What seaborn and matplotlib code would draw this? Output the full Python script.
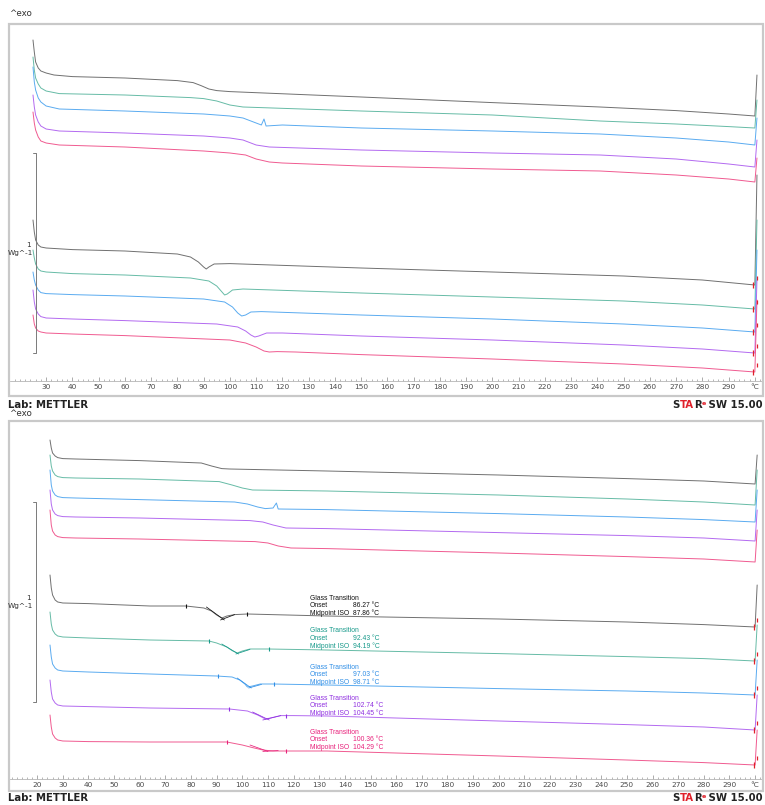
import matplotlib
matplotlib.use("Agg")
import matplotlib.pyplot as plt
import seaborn as sns
import pandas as pd
from matplotlib.patches import Rectangle
from matplotlib.ticker import MultipleLocator, FixedLocator, FixedFormatter
from matplotlib.font_manager import FontProperties, findfont, get_font

sns.set_theme(style="white")
plt.rcParams['font.family'] = ['DejaVu Sans']

W, H = 765, 805

# ---------------- colours ----------------
series = ["black", "teal", "blue", "purple", "pink"]
line_colors = ["#707070", "#66bba6", "#5aabf0", "#b36af0", "#f05a90"]
text_colors = ["#111111", "#16998a", "#2f8ee6", "#8f2fe0", "#e8207a"]

# ---------------- top panel, upper set (T in degC, heat flow in W/g) ----------------
t_a1 = [25, 25.5, 26, 27, 28, 30, 33, 40, 60, 80, 86, 89, 92, 95, 100, 150, 200, 241, 270, 290, 300, 300.8]
h_a1 = [-0.080, -0.140, -0.190, -0.220, -0.235, -0.245, -0.255, -0.263, -0.270, -0.283, -0.293, -0.308, -0.325, -0.333, -0.338, -0.365, -0.393, -0.415, -0.433, -0.450, -0.460, -0.255]
t_a2 = [25, 25.5, 26, 27, 28, 30, 35, 60, 85, 90, 95, 100, 105, 150, 200, 241, 270, 290, 300, 300.8]
h_a2 = [-0.165, -0.230, -0.270, -0.300, -0.320, -0.335, -0.348, -0.355, -0.368, -0.373, -0.385, -0.405, -0.415, -0.435, -0.455, -0.485, -0.500, -0.513, -0.520, -0.380]
t_a3 = [25, 25.5, 26, 27, 28, 30, 35, 60, 90, 100, 105, 108, 110, 112, 113, 113.8, 120, 150, 200, 241, 270, 290, 300, 300.8]
h_a3 = [-0.215, -0.290, -0.330, -0.370, -0.390, -0.410, -0.425, -0.435, -0.450, -0.460, -0.470, -0.485, -0.495, -0.505, -0.475, -0.510, -0.505, -0.520, -0.535, -0.550, -0.570, -0.590, -0.605, -0.470]
t_a4 = [25, 25.5, 26, 27, 28, 30, 35, 60, 90, 100, 105, 110, 115, 150, 200, 241, 270, 290, 300, 300.8]
h_a4 = [-0.355, -0.415, -0.455, -0.490, -0.510, -0.525, -0.535, -0.545, -0.560, -0.570, -0.580, -0.605, -0.615, -0.630, -0.645, -0.655, -0.675, -0.700, -0.715, -0.580]
t_a5 = [25, 25.5, 26, 27, 28, 30, 35, 60, 90, 100, 106, 110, 115, 120, 150, 200, 241, 270, 290, 300, 300.8]
h_a5 = [-0.440, -0.495, -0.530, -0.565, -0.585, -0.595, -0.605, -0.615, -0.635, -0.645, -0.655, -0.675, -0.690, -0.695, -0.710, -0.725, -0.735, -0.755, -0.775, -0.790, -0.670]

# ---------------- top panel, lower set ----------------
t_b1 = [25, 25.5, 26, 27, 28, 30, 40, 60, 80, 85, 88, 90, 91, 92, 94, 100, 150, 200, 250, 280, 300, 300.8]
h_b1 = [-0.980, -1.040, -1.080, -1.105, -1.115, -1.120, -1.128, -1.135, -1.150, -1.165, -1.190, -1.215, -1.225, -1.215, -1.200, -1.198, -1.220, -1.240, -1.260, -1.280, -1.305, -0.755]
t_b2 = [25, 25.5, 26, 27, 28, 30, 40, 60, 85, 92, 95, 97, 98, 99, 101, 105, 150, 200, 250, 280, 300, 300.8]
h_b2 = [-1.130, -1.170, -1.200, -1.225, -1.235, -1.240, -1.248, -1.255, -1.270, -1.285, -1.310, -1.340, -1.355, -1.350, -1.330, -1.325, -1.345, -1.365, -1.385, -1.405, -1.425, -0.980]
t_b3 = [25, 25.5, 26, 27, 28, 30, 40, 60, 90, 98, 101, 103, 104.5, 106, 108, 112, 150, 200, 250, 280, 300, 300.8]
h_b3 = [-1.240, -1.280, -1.305, -1.330, -1.343, -1.348, -1.353, -1.360, -1.375, -1.390, -1.415, -1.445, -1.460, -1.455, -1.440, -1.438, -1.455, -1.475, -1.500, -1.520, -1.540, -1.130]
t_b4 = [25, 25.5, 26, 27, 28, 30, 40, 60, 95, 103, 106, 108, 109.5, 111, 114, 120, 150, 200, 250, 280, 300, 300.8]
h_b4 = [-1.330, -1.390, -1.425, -1.450, -1.463, -1.470, -1.475, -1.483, -1.500, -1.515, -1.535, -1.555, -1.565, -1.560, -1.545, -1.545, -1.560, -1.580, -1.605, -1.625, -1.645, -1.280]
t_b5 = [25, 25.5, 26, 27, 28, 30, 40, 60, 100, 106, 110, 113, 115, 118, 125, 150, 200, 250, 280, 300, 300.8]
h_b5 = [-1.455, -1.500, -1.520, -1.535, -1.540, -1.545, -1.550, -1.558, -1.580, -1.595, -1.615, -1.635, -1.640, -1.638, -1.640, -1.653, -1.675, -1.700, -1.720, -1.740, -1.380]

# ---------------- bottom panel, upper set ----------------
t_c1 = [25, 25.5, 26, 27, 28, 30, 35, 60, 84, 88, 92, 95, 133, 200, 250, 280, 300, 300.8]
h_c1 = [-0.095, -0.135, -0.160, -0.175, -0.183, -0.188, -0.190, -0.198, -0.210, -0.225, -0.238, -0.240, -0.250, -0.270, -0.288, -0.300, -0.315, -0.170]
t_c2 = [25, 25.5, 26, 27, 28, 30, 35, 60, 91, 96, 100, 104, 133, 200, 250, 280, 300, 300.8]
h_c2 = [-0.170, -0.225, -0.250, -0.270, -0.278, -0.283, -0.285, -0.290, -0.303, -0.320, -0.335, -0.345, -0.350, -0.370, -0.390, -0.405, -0.420, -0.245]
t_c3 = [25, 25.5, 26, 27, 28, 30, 35, 60, 97, 102, 106, 109, 112, 113.3, 114, 133, 200, 250, 280, 300, 300.8]
h_c3 = [-0.245, -0.320, -0.350, -0.370, -0.378, -0.383, -0.385, -0.393, -0.405, -0.415, -0.430, -0.438, -0.435, -0.410, -0.440, -0.443, -0.463, -0.480, -0.493, -0.505, -0.345]
t_c4 = [25, 25.5, 26, 27, 28, 30, 35, 60, 103, 108, 112, 117, 133, 200, 250, 280, 300, 300.8]
h_c4 = [-0.345, -0.415, -0.445, -0.465, -0.473, -0.478, -0.480, -0.485, -0.498, -0.505, -0.520, -0.535, -0.538, -0.558, -0.573, -0.585, -0.600, -0.445]
t_c5 = [25, 25.5, 26, 27, 28, 30, 35, 60, 105, 110, 114, 119, 133, 200, 250, 280, 300, 300.8]
h_c5 = [-0.445, -0.520, -0.550, -0.570, -0.578, -0.583, -0.585, -0.590, -0.603, -0.610, -0.625, -0.635, -0.638, -0.660, -0.678, -0.690, -0.705, -0.545]

# ---------------- bottom panel, lower set (evaluated) ----------------
t_d1 = [25, 25.5, 26, 27, 28, 30, 40, 64, 78, 85, 88, 90, 92, 94, 97, 102, 133, 200, 250, 280, 300, 300.8]
h_d1 = [-0.770, -0.835, -0.870, -0.895, -0.905, -0.910, -0.913, -0.925, -0.925, -0.935, -0.950, -0.970, -0.985, -0.975, -0.968, -0.965, -0.975, -0.990, -1.005, -1.018, -1.030, -0.820]
t_d2 = [25, 25.5, 26, 27, 28, 30, 40, 64, 87, 90, 94, 96, 98, 100, 103, 110, 133, 200, 250, 280, 300, 300.8]
h_d2 = [-0.955, -1.015, -1.045, -1.065, -1.075, -1.080, -1.085, -1.095, -1.100, -1.110, -1.130, -1.148, -1.160, -1.150, -1.140, -1.140, -1.145, -1.163, -1.178, -1.188, -1.200, -1.020]
t_d3 = [25, 25.5, 26, 27, 28, 30, 40, 64, 90, 96, 99, 101, 102, 104, 107, 112, 133, 200, 250, 280, 300, 300.8]
h_d3 = [-1.120, -1.180, -1.215, -1.235, -1.245, -1.250, -1.255, -1.265, -1.275, -1.280, -1.295, -1.315, -1.330, -1.325, -1.315, -1.315, -1.320, -1.338, -1.350, -1.360, -1.370, -1.195]
t_d4 = [25, 25.5, 26, 27, 28, 30, 40, 64, 95, 102, 106, 109, 111, 115, 120, 133, 200, 250, 280, 300, 300.8]
h_d4 = [-1.295, -1.355, -1.390, -1.410, -1.420, -1.425, -1.428, -1.435, -1.440, -1.450, -1.470, -1.490, -1.485, -1.473, -1.473, -1.475, -1.500, -1.518, -1.530, -1.545, -1.370]
t_d5 = [25, 25.5, 26, 27, 28, 30, 40, 64, 94, 100, 104, 108, 112, 133, 200, 250, 280, 300, 300.8]
h_d5 = [-1.470, -1.530, -1.565, -1.585, -1.595, -1.600, -1.603, -1.605, -1.605, -1.620, -1.633, -1.645, -1.650, -1.650, -1.675, -1.695, -1.708, -1.720, -1.545]

# glass transition results
onset_vals = [86.27, 92.43, 97.03, 102.74, 100.36]
mid_vals = [87.86, 94.19, 98.71, 104.45, 104.29]

# evaluation limit marks (T, heat flow)
lim_t = [[78, 102], [87, 110.5], [90.5, 112.5], [95, 117], [94, 117]]
lim_h = [[-0.925, -0.965], [-1.100, -1.140], [-1.275, -1.315], [-1.440, -1.473], [-1.605, -1.650]]
# tangent construction lines: (T0, T1, h0, h1)
tan_a = [(86, 93, -0.930, -0.995), (92, 98.5, -1.115, -1.165), (98, 103.5, -1.285, -1.335), (104, 110.5, -1.455, -1.495), (103, 110, -1.620, -1.652)]
tan_b = [(91.5, 97, -0.995, -0.968), (97.5, 103, -1.165, -1.142), (102.5, 107.5, -1.335, -1.317), (108, 115, -1.495, -1.473), (108, 114, -1.652, -1.648)]

top_upper = [(t_a1, h_a1), (t_a2, h_a2), (t_a3, h_a3), (t_a4, h_a4), (t_a5, h_a5)]
top_lower = [(t_b1, h_b1), (t_b2, h_b2), (t_b3, h_b3), (t_b4, h_b4), (t_b5, h_b5)]
bot_upper = [(t_c1, h_c1), (t_c2, h_c2), (t_c3, h_c3), (t_c4, h_c4), (t_c5, h_c5)]
bot_lower = [(t_d1, h_d1), (t_d2, h_d2), (t_d3, h_d3), (t_d4, h_d4), (t_d5, h_d5)]


def fx(x):
    return x / W


def fy(y):
    return 1 - y / H


def make_df(groups):
    rows = []
    for g, grp in enumerate(groups):
        for i, (t, h) in enumerate(grp):
            for tt, hh in zip(t, h):
                rows.append({"T": tt, "HF": hh, "curve": f"g{g}_{series[i]}"})
    return pd.DataFrame(rows)


fig = plt.figure(figsize=(W / 100, H / 100), dpi=100)
fig.patch.set_facecolor("white")

panels = [
    dict(groups=[top_upper, top_lower], frame=(9, 24, 763, 396), ax=(24, 381), xlim=(16.24, 303.1),
         ylim=(-1.785, 0), first=30, exo_y=13, lab_y=405, bracket=(26.1, -0.643, -1.643, 25.0),
         one_y=245, wg_y=253),
    dict(groups=[bot_upper, bot_lower], frame=(9, 421, 763, 791), ax=(421, 779), xlim=(9.40, 303.08),
         ylim=(-1.79, 0), first=20, exo_y=414, lab_y=798, bracket=(19.5, -0.405, -1.405, 18.3),
         one_y=598, wg_y=606),
]

pal = {}
for g in range(2):
    for i, s in enumerate(series):
        pal[f"g{g}_{s}"] = line_colors[i]

RED = "#e0202a"
DARK = "#222222"


def advance(text, size, bold=True):
    """Sum of glyph advances in pixels (dpi 100)."""
    prop = FontProperties(family="DejaVu Sans", weight="bold" if bold else "normal")
    font = get_font(findfont(prop))
    font.set_size(size, 100)
    total = 0.0
    for ch in text:
        total += font.load_char(ord(ch)).linearHoriAdvance / 65536.0
    return total


def star_label(y_px):
    """'STARe SW 15.00' with the METTLER colouring, right-aligned at the frame edge."""
    big, small = 7.3, 4.6
    tighten = 0.3
    pieces = [("S", DARK, big, 0.0), ("TA", RED, big, 0.0), ("R", DARK, big, 0.0),
              ("e", RED, small, 3.0), (" SW 15.00", DARK, big, 0.0)]
    total = sum(advance(t, s) for t, c, s, r in pieces) - tighten * (len(pieces) - 1)
    x = 763.0 - total
    for txt, col, size, rise in pieces:
        fig.text(fx(x), fy(y_px + 3.3 - rise), txt, fontsize=size, fontweight="bold", color=col,
                 ha="left", va="baseline")
        x += advance(txt, size) - tighten


axes = []
for p in panels:
    x0, y0, x1, y1 = p["frame"]
    ay0, ay1 = p["ax"]
    ax = fig.add_axes([fx(10), fy(ay1), (763 - 10) / W, (ay1 - ay0) / H])
    ax.set_facecolor("none")
    df = make_df(p["groups"])
    sns.lineplot(data=df, x="T", y="HF", hue="curve", units="curve", estimator=None, sort=False,
                 palette=pal, linewidth=0.7, legend=False, ax=ax)
    ax.set_xlim(*p["xlim"])
    ax.set_ylim(*p["ylim"])
    for s in ["top", "left", "right"]:
        ax.spines[s].set_visible(False)
    ax.spines["bottom"].set_color("#b5b5b5")
    ax.spines["bottom"].set_linewidth(0.6)
    ax.set_yticks([])
    majors = list(range(p["first"], 301, 10))
    labels = [str(v) for v in majors[:-1]] + ["°C"]
    ax.xaxis.set_major_locator(FixedLocator(majors))
    ax.xaxis.set_major_formatter(FixedFormatter(labels))
    ax.xaxis.set_minor_locator(MultipleLocator(2))
    ax.tick_params(axis="x", which="major", direction="in", length=3, width=0.5, color="#8a8a8a",
                   labelsize=5.3, labelcolor="#4a4a4a", pad=2.2, bottom=True)
    ax.tick_params(axis="x", which="minor", direction="in", length=1.8, width=0.5, color="#9a9a9a", bottom=True)
    ax.set_xlabel("")
    ax.set_ylabel("")

    # red end marks on the lower set
    for t, h in p["groups"][1]:
        ax.plot([299.4], [h[-2]], marker="|", markersize=4, mew=0.9, color=RED, ls="none")
        ax.plot([300.9], [h[-2] + 0.035], marker="|", markersize=3, mew=0.9, color=RED, ls="none")

    # 1 W/g scale bracket
    bx, b_top, b_bot, bstub = p["bracket"]
    ax.plot([bstub, bx, bx, bstub], [b_top, b_top, b_bot, b_bot], color="#7a7a7a", lw=0.7)

    # frame and captions
    fig.add_artist(Rectangle((fx(x0), fy(y1)), (x1 - x0) / W, (y1 - y0) / H, transform=fig.transFigure,
                             fill=False, ec="#c9c9c9", lw=1.6))
    fig.text(fx(9), fy(p["exo_y"]), "^exo", fontsize=6.3, color="#333333", ha="left", va="center")
    fig.text(fx(31), fy(p["one_y"]), "1", fontsize=5.3, color="#333333", ha="right", va="center")
    fig.text(fx(33), fy(p["wg_y"]), "Wg^-1", fontsize=5.3, color="#333333", ha="right", va="center")
    fig.text(fx(8), fy(p["lab_y"]), "Lab: METTLER", fontsize=7.3, fontweight="bold", color=DARK,
             ha="left", va="center")
    star_label(p["lab_y"])
    axes.append(ax)

# evaluation marks on bottom lower set
axb = axes[1]
for i in range(5):
    axb.plot(lim_t[i], lim_h[i], marker="|", markersize=3.5, mew=0.8, ls="none", color=text_colors[i])
    a = tan_a[i]
    b = tan_b[i]
    axb.plot([a[0], a[1]], [a[2], a[3]], color=text_colors[i], lw=0.55)
    axb.plot([b[0], b[1]], [b[2], b[3]], color=text_colors[i], lw=0.55)

ann_font = ['Liberation Sans', 'DejaVu Sans']
gt_y = [598, 631, 667, 698, 732]
for i in range(5):
    y = gt_y[i]
    c = text_colors[i]
    kw = dict(fontsize=4.9, color=c, ha="left", va="center", family=ann_font)
    fig.text(fx(310), fy(y), "Glass Transition", **kw)
    fig.text(fx(310), fy(y + 7.6), "Onset", **kw)
    fig.text(fx(310), fy(y + 15.2), "Midpoint ISO", **kw)
    fig.text(fx(353), fy(y + 7.6), f"{onset_vals[i]:.2f} °C", **kw)
    fig.text(fx(353), fy(y + 15.2), f"{mid_vals[i]:.2f} °C", **kw)

fig.savefig("out.png", dpi=100, facecolor="white")
